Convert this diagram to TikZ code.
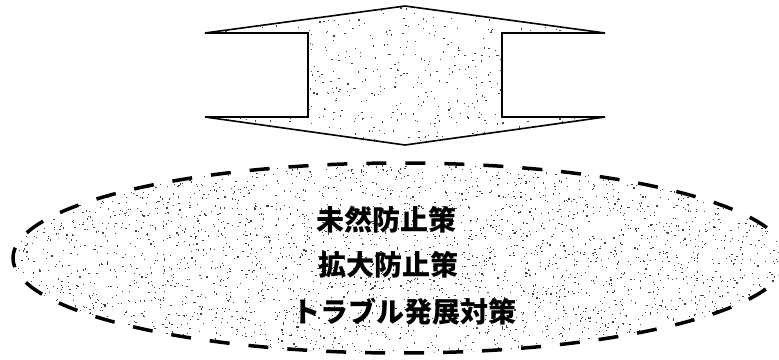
\documentclass[tikz,border=0pt]{standalone}
\usepackage{fontspec}
\newfontfamily\cjk{Noto Sans CJK JP}
\begin{document}
\begin{tikzpicture}[x=1pt,y=-1pt,
  outline/.style={line width=1.6pt, line join=miter},
  ring/.style={line width=3.5pt, dash pattern=on 20pt off 19pt},
  stipple/.style={fill=black!75},
  label/.style={font=\cjk\bfseries\fontsize{28}{28}\selectfont, inner sep=0pt}]
\useasboundingbox (0,0) rectangle (779,359);
\pgfmathsetseed{7}
% stippled double arrow
\begin{scope}
  \clip (405,6) -- (605,33) -- (502,33) -- (502,117) -- (605,117) -- (405,145) -- (205,117) -- (308,117) -- (308,33) -- (205,33) -- cycle;
  \foreach \i in {1,...,650} {
    \pgfmathsetmacro\dx{405+200*rand}\pgfmathsetmacro\dy{75.5+69.5*rand}
    \fill[stipple] (\dx,\dy) rectangle ++(1.2,1.2);}
\end{scope}
\draw[outline] (405,6) -- (605,33) -- (502,33) -- (502,117) -- (605,117) -- (405,145) -- (205,117) -- (308,117) -- (308,33) -- (205,33) -- cycle;
% stippled dashed ellipse
\begin{scope}
  \clip (400,258) ellipse [x radius=387, y radius=95];
  \foreach \i in {1,...,3400} {
    \pgfmathsetmacro\dx{400+387*rand}\pgfmathsetmacro\dy{258+95*rand}
    \fill[stipple] (\dx,\dy) rectangle ++(1.2,1.2);}
\end{scope}
\draw[ring] (400,258) ellipse [x radius=387, y radius=95];
% labels
\node[label] (l1) at (386,220) {未然防止策};
\node[label] (l2) at (388,265) {拡大防止策};
\node[label] (l3) at (404,312) {トラブル発展対策};
\end{tikzpicture}
\end{document}
